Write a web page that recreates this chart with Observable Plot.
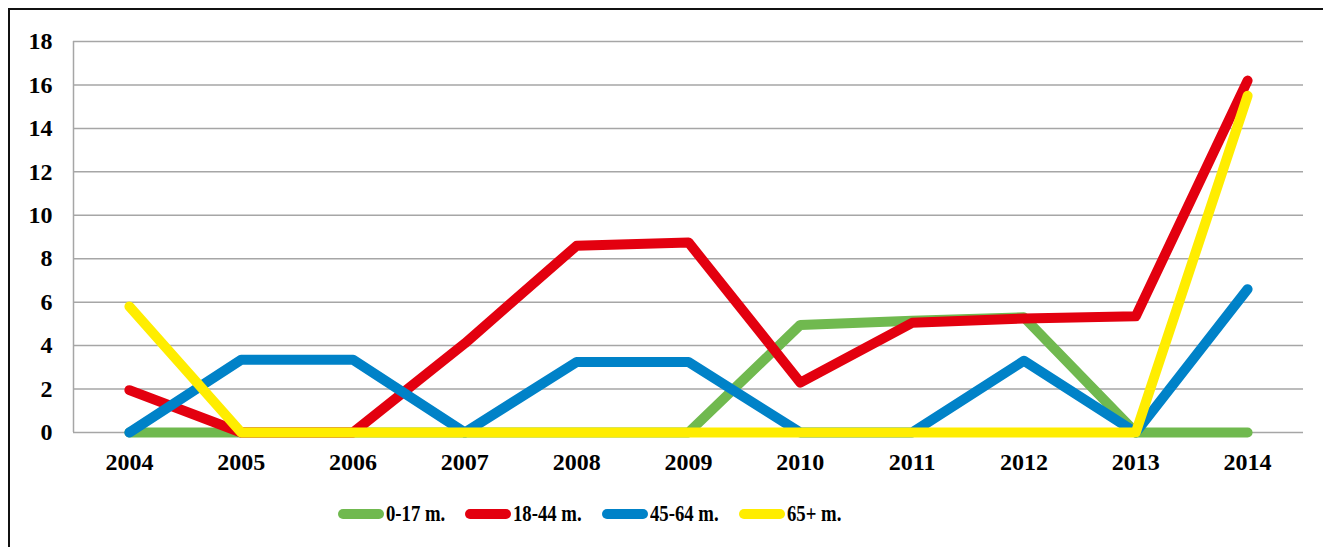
<!DOCTYPE html>
<html>
<head>
<meta charset="utf-8">
<script src="https://cdn.jsdelivr.net/npm/d3@7"></script>
<script src="https://cdn.jsdelivr.net/npm/@observablehq/plot@0.6"></script>
<style>
  html, body { margin: 0; padding: 0; background: #fff; overflow: hidden; }
  #frame { position: absolute; left: 8px; top: 8px; width: 1400px; height: 600px; border: 2px solid #111; }
  #chart { position: absolute; left: 0; top: 0; }
  #legend { position: absolute; left: 338px; top: 500px; display: flex; align-items: center;
            font-family: "Liberation Serif", serif; font-weight: bold; font-size: 24px; color: #000; }
  .item { display: flex; align-items: center; margin-right: 20px; }
  .sw { width: 46px; height: 10px; border-radius: 5px; margin-right: 2px; }
  .lab { display: inline-block; transform: scaleX(0.78); transform-origin: left center; white-space: nowrap; }
</style>
</head>
<body>
<div id="frame"></div>
<div id="chart"></div>
<div id="legend"></div>
<script>
const years = [2004, 2005, 2006, 2007, 2008, 2009, 2010, 2011, 2012, 2013, 2014];
const age0_17  = [0, 0, 0, 0, 0, 0, 4.95, 5.15, 5.3, 0, 0];
const age18_44 = [1.95, 0, 0, 4.1, 8.6, 8.75, 2.3, 5.05, 5.25, 5.35, 16.2];
const age45_64 = [0, 3.35, 3.35, 0, 3.25, 3.25, 0, 0, 3.3, 0, 6.6];
const age65    = [5.8, 0, 0, 0, 0, 0, 0, 0, 0, 0, 15.5];
const seriesNames = ["0-17 m.", "18-44 m.", "45-64 m.", "65+ m."];
const seriesColors = ["#70B94F", "#E3000F", "#0082C8", "#FFED00"];
const yTicks = [0, 2, 4, 6, 8, 10, 12, 14, 16, 18];

const seriesValues = [age0_17, age18_44, age45_64, age65];
const lines = seriesValues.map((vals, i) =>
  Plot.lineY(vals, {
    x: years, y: vals, stroke: seriesColors[i], strokeWidth: 10,
    strokeLinecap: "round", strokeLinejoin: "round"
  })
);

const chart = Plot.plot({
  width: 1323,
  height: 490,
  marginLeft: 73,
  marginRight: 20,
  marginTop: 41,
  marginBottom: 58,
  style: { fontFamily: "Liberation Serif, serif", fontSize: "24px", fontWeight: "bold", color: "#000", background: "transparent" },
  x: { type: "linear", domain: [years[0] - 0.5, years[years.length - 1] + 0.5], label: null },
  y: { domain: [0, 18], label: null },
  marks: [
    Plot.gridY(yTicks, { stroke: "#a6a6a6", strokeOpacity: 1, strokeWidth: 1.5 }),
    Plot.ruleX([years[0] - 0.5], { stroke: "#a6a6a6", strokeWidth: 1.5 }),
    Plot.axisY({ ticks: yTicks, tickSize: 0, tickPadding: 21, fill: "#000" }),
    Plot.axisX({ ticks: years, tickSize: 0, tickPadding: 20, tickFormat: d => String(d), fill: "#000" }),
    ...lines
  ]
});
document.getElementById("chart").appendChild(chart);

const legend = document.getElementById("legend");
seriesNames.forEach((name, i) => {
  const item = document.createElement("div");
  item.className = "item";
  const sw = document.createElement("div");
  sw.className = "sw";
  sw.style.background = seriesColors[i];
  const lab = document.createElement("span");
  lab.className = "lab";
  lab.textContent = name;
  item.appendChild(sw);
  item.appendChild(lab);
  legend.appendChild(item);
});
// adjust item widths to account for scaled labels
legend.querySelectorAll(".item").forEach(item => {
  const lab = item.querySelector(".lab");
  const w = lab.getBoundingClientRect().width;
  lab.style.width = (lab.offsetWidth) + "px";
  lab.style.marginRight = (w - lab.offsetWidth) + "px";
});
</script>
</body>
</html>
